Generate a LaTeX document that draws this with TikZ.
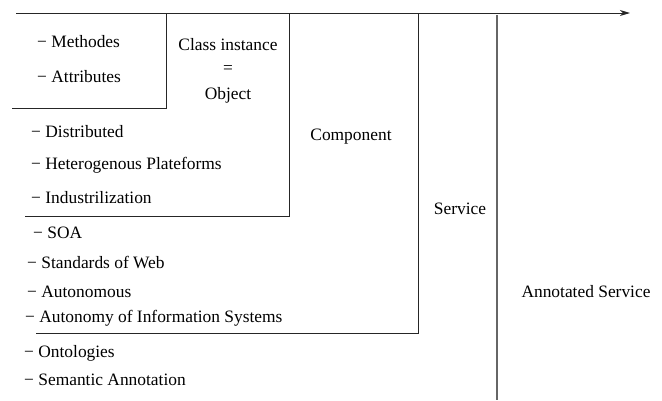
\documentclass[tikz,border=0pt]{standalone}
\usepackage{fontspec}
\setmainfont{Liberation Serif}
\usetikzlibrary{arrows.meta}
\begin{document}
\begin{tikzpicture}[x=1pt,y=-1pt,
  txt/.style={inner sep=0pt,font=\fontsize{17.4}{21}\selectfont},
  item/.style={txt,anchor=west},
  ln/.style={line width=1pt,black!85}]
\useasboundingbox (0,0) rectangle (662,400);
% axis
\coordinate (a0) at (16,13);
\coordinate (a1) at (630,13);
\draw[ln,-{Stealth[length=10pt,width=6pt,inset=3pt]}] (a0) -- (a1);
% frames
\draw[ln] (166,13) -- (166,108) -- (12,108);
\draw[ln] (289,13) -- (289,216) -- (25,216);
\draw[ln] (418,13) -- (418,333) -- (36,333);
\draw[line width=1.4pt,black!60] (497,15) -- (497,400);
% texts
\node[item] (m1) at (37,42) {− Methodes};
\node[item] (m2) at (37,77) {− Attributes};
\node[txt] (ci) at (228,45) {Class instance};
\node[txt] (eq) at (228,70) {=};
\node[txt] (ob) at (228,95) {Object};
\node[item] (d1) at (31,132) {− Distributed};
\node[item] (d2) at (31,165) {− Heterogenous Plateforms};
\node[item] (d3) at (31,198) {− Industrilization};
\node[txt] (comp) at (351,137) {Component};
\node[item] (s1) at (33,233) {− SOA};
\node[item] (s2) at (27,263) {− Standards of Web};
\node[item] (s3) at (27,292) {− Autonomous};
\node[item] (s4) at (25,318) {− Autonomy of Information Systems};
\node[txt] (serv) at (460,209) {Service};
\node[item] (o1) at (24,353) {− Ontologies};
\node[item] (o2) at (24,380) {− Semantic Annotation};
\node[txt] (ann) at (586,292) {Annotated Service};
\end{tikzpicture}
\end{document}
